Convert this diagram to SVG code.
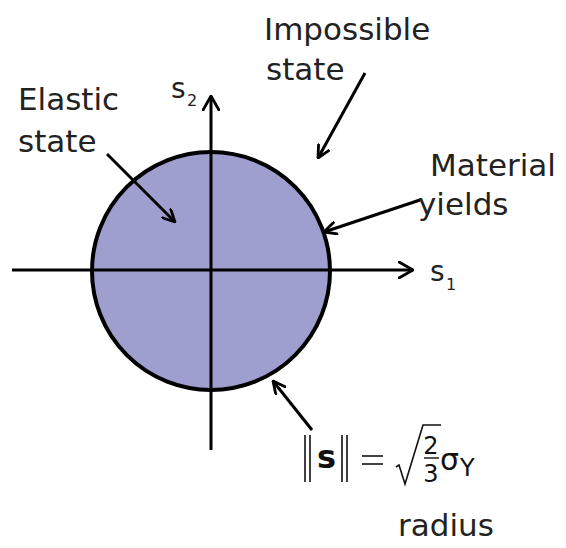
<svg xmlns="http://www.w3.org/2000/svg" width="566" height="548" viewBox="0 0 566 548">
<defs>
<marker id="ah" viewBox="0 0 14 14" refX="13" refY="7" markerWidth="14" markerHeight="14" markerUnits="userSpaceOnUse" orient="auto">
<path d="M1,1 L13,7 L1,13" fill="none" stroke="#000" stroke-width="2.8" stroke-linecap="round" stroke-linejoin="round"/>
</marker>
<marker id="axh" viewBox="0 0 16 18" refX="15" refY="9" markerWidth="16" markerHeight="18" markerUnits="userSpaceOnUse" orient="auto">
<path d="M1,1 L15,9 L1,17" fill="none" stroke="#000" stroke-width="2.8" stroke-linecap="round" stroke-linejoin="round"/>
</marker>
</defs>
<style>
.t{font-family:"DejaVu Sans",sans-serif;font-size:31px;fill:#222}
.ax{font-family:"DejaVu Sans",sans-serif;font-size:28px;fill:#222}
.sub{font-family:"DejaVu Sans",sans-serif;font-size:16px;fill:#222}
.m{font-family:"DejaVu Sans",sans-serif;fill:#111}
.ln{stroke:#000;stroke-width:3;fill:none}
.bar{stroke:#111;stroke-width:1.6}
</style>
<rect width="566" height="548" fill="#fff"/>
<g id="circle">
<circle cx="211" cy="271" r="119" fill="#9e9ecf" stroke="#000" stroke-width="4"/>
</g>
<g id="axes">
<line class="ln" x1="12" y1="270" x2="413" y2="270" marker-end="url(#axh)"/>
<line class="ln" x1="211" y1="450" x2="211" y2="96" marker-end="url(#axh)"/>
</g>
<g id="connectors">
<line class="ln" x1="107" y1="154" x2="175" y2="222" marker-end="url(#ah)"/>
<line class="ln" x1="365" y1="73" x2="318" y2="158" marker-end="url(#ah)"/>
<line class="ln" x1="420" y1="200" x2="324" y2="232" marker-end="url(#ah)"/>
<line class="ln" x1="312" y1="430" x2="273" y2="381" marker-end="url(#ah)"/>
</g>
<g id="label-s2">
<text class="ax" x="171" y="98">s</text><text class="sub" x="187" y="106">2</text>
</g>
<g id="label-s1">
<text class="ax" x="430" y="281">s</text><text class="sub" x="446" y="290">1</text>
</g>
<g id="elastic">
<text class="t" x="18" y="110">Elastic</text>
<text class="t" x="18" y="152">state</text>
</g>
<g id="impossible">
<text class="t" x="264" y="40">Impossible</text>
<text class="t" x="266" y="80">state</text>
</g>
<g id="yields">
<text class="t" x="430" y="176">Material</text>
<text class="t" x="418" y="215">yields</text>
</g>
<g id="formula">
<line class="bar" x1="305" y1="435" x2="305" y2="482"/>
<line class="bar" x1="310" y1="435" x2="310" y2="482"/>
<text class="m" x="317" y="468" font-size="32" font-weight="bold">s</text>
<line class="bar" x1="342" y1="435" x2="342" y2="482"/>
<line class="bar" x1="347" y1="435" x2="347" y2="482"/>
<line class="bar" x1="362" y1="456" x2="383" y2="456"/>
<line class="bar" x1="362" y1="464" x2="383" y2="464"/>
<path d="M396,467 L399,465 L405,484 L423,425 L441,425" fill="none" stroke="#111" stroke-width="1.6"/>
<text class="m" x="431" y="454" font-size="24" text-anchor="middle">2</text>
<line x1="424" y1="458" x2="439" y2="458" stroke="#111" stroke-width="1.4"/>
<text class="m" x="431" y="482" font-size="24" text-anchor="middle">3</text>
<text class="m" x="440" y="470" font-size="30">σ</text>
<text class="m" x="460" y="476" font-size="24">Y</text>
</g>
<g id="radius">
<text class="t" x="398" y="536" font-size="30">radius</text>
</g>
</svg>
